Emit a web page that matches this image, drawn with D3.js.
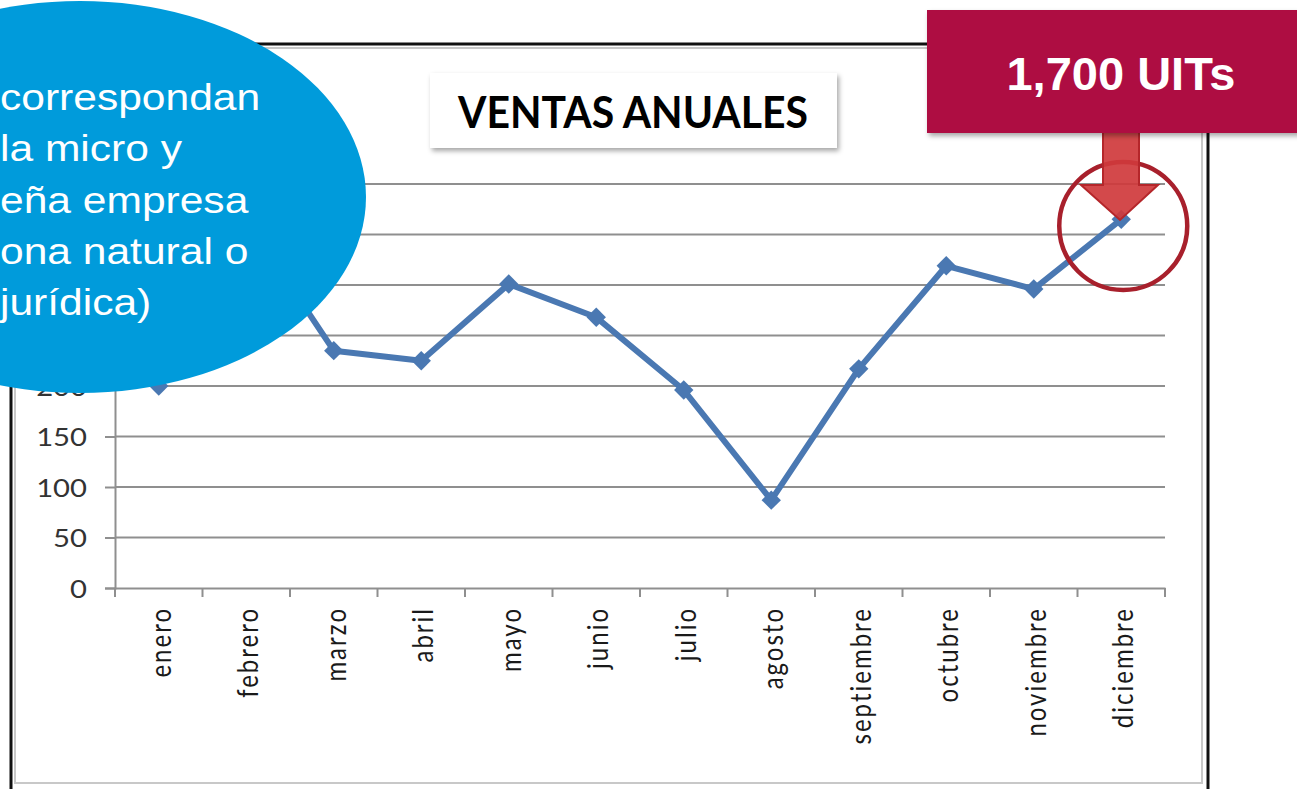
<!DOCTYPE html>
<html>
<head>
<meta charset="utf-8">
<script src="https://cdn.jsdelivr.net/npm/d3@7"></script>
<style>
  body { margin: 0; background: #fff; }
  svg { display: block; }
</style>
</head>
<body>
<div class="lineChart"></div>
<script>
// chart data
var months = ["enero", "febrero", "marzo", "abril", "mayo", "junio", "julio",
              "agosto", "septiembre", "octubre", "noviembre", "diciembre"];
var ventas = [200, 365, 235, 225, 301, 268, 196, 87, 217, 319, 296, 365];
var yTicks = [0, 50, 100, 150, 200, 250, 300, 350, 400];
var title = "VENTAS ANUALES";
var badge = "1,700 UITs";
var bubbleLines = ["correspondan", "la micro y", "eña empresa", "ona natural o", "jurídica)"];

function init() {
  var w = 1297;
  var h = 789;

  var svg = d3.select(".lineChart")
    .append("svg")
    .attr("width", w)
    .attr("height", h);

  var defs = svg.append("defs");
  var sh = defs.append("filter").attr("id", "shadow")
    .attr("x", "-10%").attr("y", "-10%").attr("width", "130%").attr("height", "140%");
  sh.append("feDropShadow")
    .attr("dx", 2).attr("dy", 3).attr("stdDeviation", 2.5)
    .attr("flood-color", "#000").attr("flood-opacity", 0.35);

  // chart frame
  svg.append("rect")
    .attr("x", 11).attr("y", 44)
    .attr("width", 1197).attr("height", 760)
    .attr("fill", "#fff").attr("stroke", "#111").attr("stroke-width", 3);
  svg.append("rect")
    .attr("x", 15).attr("y", 48)
    .attr("width", 1187).attr("height", 735)
    .attr("fill", "none").attr("stroke", "#c8c8c8").attr("stroke-width", 2);

  var xScale = d3.scaleBand()
    .domain(months)
    .range([115, 1165]);

  var yScale = d3.scaleLinear()
    .domain([0, 400])
    .range([588, 184]);

  // gridlines
  svg.append("g")
    .selectAll("line")
    .data(yTicks.slice(1))
    .enter()
    .append("line")
    .attr("x1", 115).attr("x2", 1165)
    .attr("y1", function(d) { return yScale(d); })
    .attr("y2", function(d) { return yScale(d); })
    .attr("stroke", "#8f8f8f")
    .attr("stroke-width", 2);

  // y axis
  var yAxis = d3.axisLeft(yScale)
    .tickValues(yTicks)
    .tickSize(10)
    .tickPadding(0);

  var gy = svg.append("g")
    .attr("transform", "translate(115,0)")
    .call(yAxis);
  gy.select(".domain").attr("stroke", "#8f8f8f").attr("stroke-width", 2);
  gy.selectAll(".tick line").attr("stroke", "#8f8f8f").attr("stroke-width", 2);
  gy.selectAll(".tick text").remove();
  // labels above 200 sit under the blue bubble, only the lower ones show
  gy.selectAll(".tick")
    .filter(function(d) { return d <= 200; })
    .append("text")
    .attr("transform", "translate(-28,0) scale(1.17,1)")
    .attr("dy", "0.36em")
    .attr("text-anchor", "end")
    .attr("fill", "#333")
    .style("font-family", "Lato, sans-serif")
    .style("font-size", "25px")
    .text(function(d) { return d; });

  // x axis
  var xAxis = d3.axisBottom(xScale)
    .tickSize(0)
    .tickFormat("");

  var gx = svg.append("g")
    .attr("transform", "translate(0,588)")
    .call(xAxis);
  gx.select(".domain").attr("stroke", "#8f8f8f").attr("stroke-width", 2);

  var bounds = months.map(function(m) { return xScale(m); }).concat([xScale.range()[1]]);
  svg.append("g")
    .selectAll("line")
    .data(bounds)
    .enter()
    .append("line")
    .attr("x1", function(d) { return d; })
    .attr("x2", function(d) { return d; })
    .attr("y1", 588).attr("y2", 597)
    .attr("stroke", "#8f8f8f")
    .attr("stroke-width", 2);

  svg.append("g")
    .selectAll("text")
    .data(months)
    .enter()
    .append("text")
    .attr("transform", function(d) {
      return "translate(" + (xScale(d) + xScale.bandwidth() / 2 + 12) + ",607) scale(1.17,1) rotate(-90)";
    })
    .attr("text-anchor", "end")
    .attr("fill", "#1a1a1a")
    .style("font-family", "Lato, sans-serif")
    .style("font-size", "24px")
    .style("letter-spacing", "2px")
    .text(function(d) { return d; });

  // line
  var line = d3.line()
    .x(function(d, i) { return xScale(months[i]) + xScale.bandwidth() / 2; })
    .y(function(d) { return yScale(d); });

  svg.append("path")
    .datum(ventas)
    .attr("fill", "none")
    .attr("stroke", "#4a78b2")
    .attr("stroke-width", 6)
    .attr("stroke-linejoin", "round")
    .attr("d", line);

  svg.selectAll(".dot")
    .data(ventas)
    .enter()
    .append("path")
    .attr("class", "dot")
    .attr("d", d3.symbol().type(d3.symbolDiamond2).size(240))
    .attr("transform", function(d, i) {
      return "translate(" + (xScale(months[i]) + xScale.bandwidth() / 2) + "," + yScale(d) + ")";
    })
    .attr("fill", "#4a78b2");

  // title box
  svg.append("rect")
    .attr("x", 430).attr("y", 73)
    .attr("width", 407).attr("height", 75)
    .attr("fill", "#fff")
    .attr("filter", "url(#shadow)");
  svg.append("text")
    .attr("x", 458).attr("y", 128)
    .attr("textLength", 350)
    .attr("lengthAdjust", "spacingAndGlyphs")
    .attr("fill", "#000")
    .style("font-family", "Lato, sans-serif")
    .style("font-weight", "bold")
    .style("font-size", "43px")
    .text(title);

  // highlight circle and arrow on the last month
  var lastX = xScale(months[11]) + xScale.bandwidth() / 2;
  svg.append("circle")
    .attr("cx", lastX + 2).attr("cy", 226)
    .attr("r", 64)
    .attr("fill", "none")
    .attr("stroke", "#a8202c")
    .attr("stroke-width", 4.5);

  var arrow = [[1103, 120], [1139, 120], [1139, 185], [1158, 185], [1120, 220],
               [1081, 185], [1103, 185]];
  svg.append("path")
    .attr("d", d3.line()(arrow) + "Z")
    .attr("fill", "#cf3a3c")
    .attr("fill-opacity", 0.92)
    .attr("stroke", "#b5262a")
    .attr("stroke-width", 2);

  // red badge
  svg.append("rect")
    .attr("x", 927).attr("y", 10)
    .attr("width", 380).attr("height", 123)
    .attr("fill", "#ae0e42")
    .attr("filter", "url(#shadow)");
  svg.append("text")
    .attr("x", 1121).attr("y", 90)
    .attr("text-anchor", "middle")
    .attr("fill", "#fff")
    .style("font-family", "'Liberation Sans', Arial, sans-serif")
    .style("font-weight", "bold")
    .style("font-size", "47px")
    .text(badge);

  // blue bubble
  svg.append("ellipse")
    .attr("cx", 80).attr("cy", 197)
    .attr("rx", 286).attr("ry", 196)
    .attr("fill", "#009bdb");

  svg.append("g")
    .attr("transform", "scale(1.15,1)")
    .selectAll("text")
    .data(bubbleLines)
    .enter()
    .append("text")
    .attr("x", 0)
    .attr("y", function(d, i) { return 110 + i * 51.3; })
    .attr("fill", "#fff")
    .style("font-family", "'Liberation Sans', Arial, sans-serif")
    .style("font-size", "37px")
    .text(function(d) { return d; });
}
window.onload = init;
</script>
</body>
</html>
